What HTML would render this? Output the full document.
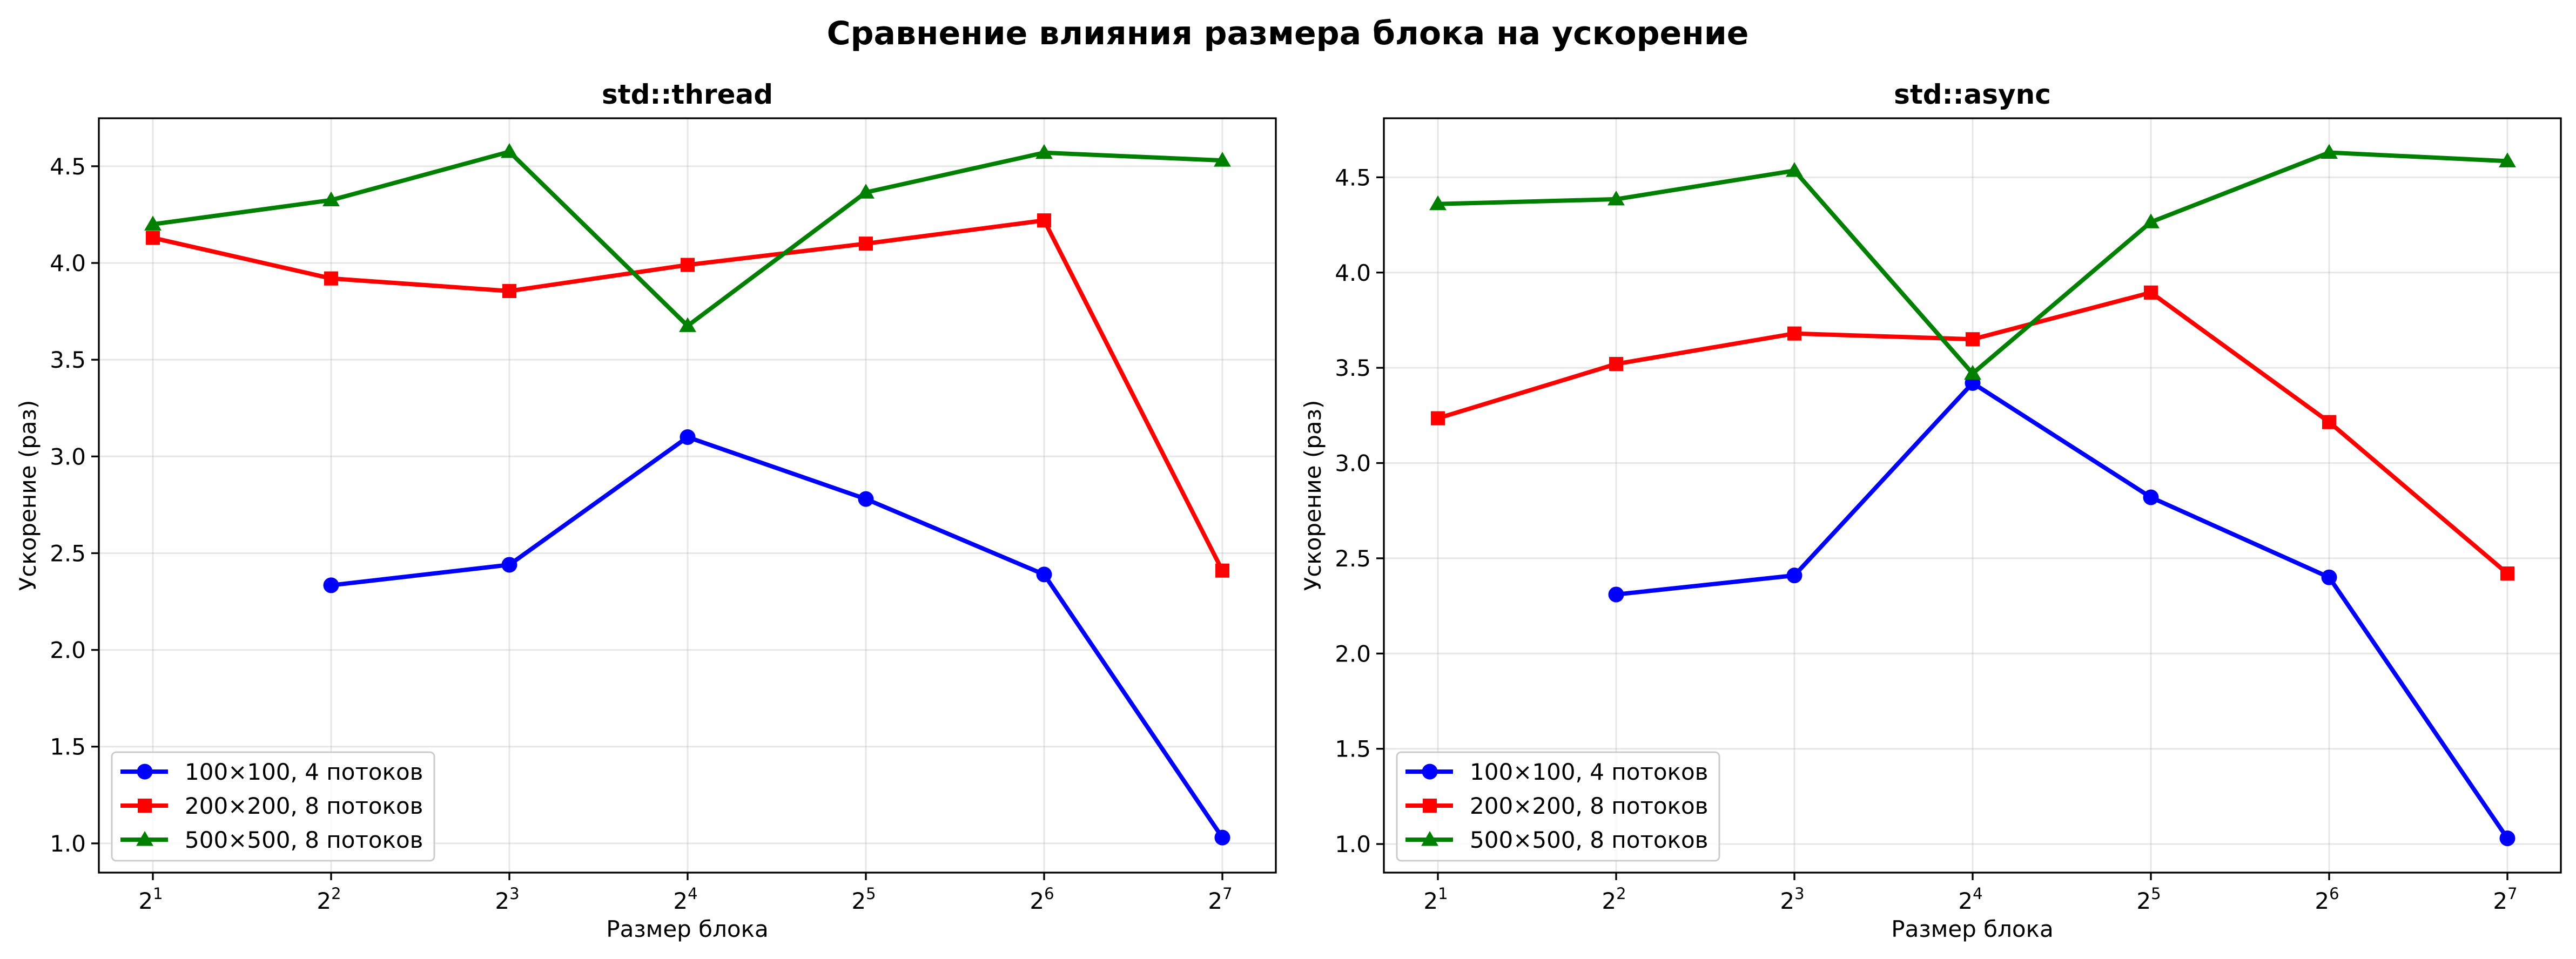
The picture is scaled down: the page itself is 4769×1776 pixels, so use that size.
<!DOCTYPE html>
<html><head><meta charset="utf-8"><style>
body{margin:0;background:#fff}
svg{display:block}
text{font-family:"DejaVu Sans","Liberation Sans",sans-serif;fill:#000}
</style></head><body>
<svg id="fig" width="4769" height="1776" viewBox="0 0 4769 1776" xmlns="http://www.w3.org/2000/svg">
<rect width="4769" height="1776" fill="#fff"/>
<text x="2384" y="82" font-size="60" font-weight="bold" text-anchor="middle">Сравнение влияния размера блока на ускорение</text>
</svg>
<script>
const exponents=[1,2,3,4,5,6,7];
const yTicks=[1.0,1.5,2.0,2.5,3.0,3.5,4.0,4.5];
const seriesLabels=["100×100, 4 потоков","200×200, 8 потоков","500×500, 8 потоков"];
const threadBlue=[null,2.334,2.44,3.10,2.78,2.39,1.03];
const threadRed=[4.13,3.92,3.855,3.99,4.10,4.22,2.41];
const threadGreen=[4.20,4.325,4.575,3.675,4.365,4.57,4.53];
const asyncBlue=[null,2.31,2.41,3.42,2.82,2.40,1.03];
const asyncRed=[3.235,3.52,3.68,3.65,3.895,3.215,2.42];
const asyncGreen=[4.36,4.385,4.535,3.47,4.265,4.63,4.585];

const NS="http://www.w3.org/2000/svg";
const svg=document.getElementById('fig');
function mk(tag,attrs,parent){const e=document.createElementNS(NS,tag);for(const k in attrs)e.setAttribute(k,attrs[k]);(parent||svg).appendChild(e);return e;}
const colors=["#0000ff","#ff0000","#008000"];
const markers=["circle","square","triangle"];

function marker(g,type,x,y,c,s){
  let m;
  if(type==="circle"){m=mk('circle',{cx:x,cy:y,r:s*0.5,fill:c},g);}
  else if(type==="square"){m=mk('rect',{x:x-s*0.45,y:y-s*0.45,width:s*0.9,height:s*0.9,fill:c},g);}
  else {const r=s*0.55;m=mk('polygon',{points:`${x},${y-r} ${x+r},${y+r*0.72} ${x-r},${y+r*0.72}`,fill:c},g);}
  return m;
}

function panel(name,L,title,ymin,ymax,data){
  const R=L+2179,T=219,B=1616;
  const x0=L+100,dx=330;
  const xs=i=>x0+i*dx;
  const ys=v=>B-(v-ymin)/(ymax-ymin)*(B-T);
  const g=mk('g',{});
  
  
  exponents.forEach((e,i)=>{const l=mk('line',{x1:xs(i),x2:xs(i),y1:T,y2:B,stroke:'#b0b0b0','stroke-opacity':0.3,'stroke-width':3},g);
    });
  yTicks.forEach(v=>{const l=mk('line',{x1:L,x2:R,y1:ys(v),y2:ys(v),stroke:'#b0b0b0','stroke-opacity':0.3,'stroke-width':3},g);
    });
  data.forEach((arr,si)=>{
    const sg=mk('g',{},g);
    
    
    const pts=[];arr.forEach((v,i)=>{if(v!==null)pts.push([xs(i),ys(v)]);});
    mk('polyline',{points:pts.map(p=>p.join(',')).join(' '),fill:'none',stroke:colors[si],'stroke-width':8,'stroke-linejoin':'round'},sg);
    pts.forEach(p=>{const m=marker(sg,markers[si],p[0],p[1],colors[si],29);
      });
  });
  const fr=mk('rect',{x:L,y:T,width:R-L,height:B-T,fill:'none',stroke:'#000','stroke-width':3.3},g);
  
  exponents.forEach((e,i)=>{mk('line',{x1:xs(i),x2:xs(i),y1:B,y2:B+14,stroke:'#000','stroke-width':3.3},g);
    const t=mk('text',{x:xs(i)-4,y:B+67,'font-size':42,'text-anchor':'middle'},g);
    
    t.textContent='2';const s=mk('tspan',{dy:-18,'font-size':29},t);s.textContent=e;});
  yTicks.forEach(v=>{mk('line',{x1:L-14,x2:L,y1:ys(v),y2:ys(v),stroke:'#000','stroke-width':3.3},g);
    const t=mk('text',{x:L-24,y:ys(v)+15,'font-size':42,'text-anchor':'end'},g);
    
    t.textContent=v.toFixed(1);});
  const tt=mk('text',{x:(L+R)/2,y:192,'font-size':50,'font-weight':'bold','text-anchor':'middle'},g);
  tt.textContent=title;
  const xl=mk('text',{x:(L+R)/2,y:1735,'font-size':42,'text-anchor':'middle'},g);
  xl.textContent='Размер блока';
  const yl=mk('text',{x:0,y:0,'font-size':42,'text-anchor':'middle',transform:`translate(${L-117},${(T+B)/2}) rotate(-90)`},g);
  yl.textContent='Ускорение (раз)';
  const lg=mk('g',{},g);
  
  mk('rect',{x:L+24,y:1393,width:597,height:201,rx:8,fill:'#fff','fill-opacity':0.8,stroke:'#cccccc','stroke-width':3},lg);
  seriesLabels.forEach((lab,si)=>{const y=1429+si*63;
    const e=mk('g',{},lg);
    
    mk('line',{x1:L+40,x2:L+128,y1:y,y2:y,stroke:colors[si],'stroke-width':8},e);
    marker(e,markers[si],L+85,y,colors[si],29);
    const t=mk('text',{x:L+159,y:y+15,'font-size':42},e);t.textContent=lab;});
}
panel('thread',183,'std::thread',0.849,4.748,[threadBlue,threadRed,threadGreen]);
panel('async',2562,'std::async',0.85,4.81,[asyncBlue,asyncRed,asyncGreen]);
</script>
</body></html>
